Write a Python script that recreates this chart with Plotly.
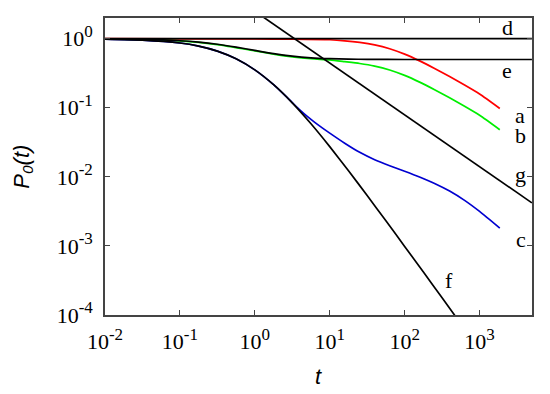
import plotly.graph_objects as go

# ---- data (t, P0(t)) ----
t_a = [0.01, 0.1, 1, 3.16, 10, 15.85, 25.1, 39.8, 63.1, 100, 158.5, 251, 398, 631, 1000, 1862]
p_a = [1.0, 0.998, 0.99, 0.985, 0.966, 0.933, 0.883, 0.813, 0.716, 0.598, 0.478, 0.371, 0.283, 0.213, 0.158, 0.0977]

t_b = [0.01, 0.1, 0.316, 1, 1.78, 3.16, 5.62, 10, 15.85, 25.1, 39.8, 63.1, 100, 158.5, 251, 398, 631, 1000, 1862]
p_b = [0.993, 0.928, 0.823, 0.667, 0.599, 0.547, 0.513, 0.494, 0.466, 0.438, 0.402, 0.353, 0.2945, 0.2354,
       0.1827, 0.1394, 0.1049, 0.0778, 0.0481]

t_c = [0.01, 0.0316, 0.1, 0.178, 0.316, 0.562, 1, 1.78, 2.51, 3.16, 3.98, 5.01, 6.31, 7.94, 10, 15.85, 25.1,
       39.8, 63.1, 100, 158, 251, 398, 631, 1000, 1862]
p_c = [0.985, 0.954, 0.867, 0.782, 0.662, 0.512, 0.354, 0.216, 0.152, 0.1189, 0.0933, 0.0750, 0.0615, 0.0512,
       0.0430, 0.0307, 0.02265, 0.0177, 0.01449, 0.01205, 0.00995, 0.00804, 0.00624, 0.00457, 0.00316, 0.00181]

t_d = [0.01, 5000]
p_d = [1.0, 1.0]

t_e = [0.01, 0.0316, 0.1, 0.178, 0.316, 0.562, 1, 1.78, 3.16, 5.62, 10, 17.8, 31.6, 100, 5000]
p_e = [0.993, 0.977, 0.934, 0.891, 0.831, 0.756, 0.677, 0.608, 0.559, 0.529, 0.514, 0.506, 0.503, 0.500, 0.500]

t_f = [0.01, 0.0316, 0.1, 0.178, 0.316, 0.562, 1, 1.78, 3.16, 5.62, 10, 17.8, 31.6, 56.2, 100, 178, 316, 562]
p_f = [0.985, 0.954, 0.867, 0.782, 0.662, 0.512, 0.354, 0.216, 0.118, 0.0587, 0.0274, 0.01227, 0.00537,
       0.00231, 0.000985, 0.000418, 0.000177, 0.0000748]

t_g = [1, 5000]
p_g = [2.5, 0.0042]

x_tickvals = [0.01, 0.1, 1, 10, 100, 1000]
x_exponents = ["-2", "-1", "0", "1", "2", "3"]
y_tickvals = [0.0001, 0.001, 0.01, 0.1, 1]
y_exponents = ["-4", "-3", "-2", "-1", "0"]

curve_labels = ["a", "b", "c", "d", "e", "f", "g"]


def pow_label(e):
    return "10<sup><span style='font-size:17px'>" + e + "</span></sup>"


# ---- figure ----
fig = go.Figure()
LW = 1.7
for t, p, col in [(t_a, p_a, "#ff0000"), (t_b, p_b, "#00ee00"), (t_c, p_c, "#0000d0")]:
    fig.add_trace(go.Scatter(x=t, y=p, mode="lines", line=dict(color=col, width=LW, shape="spline", smoothing=0.6),
                             showlegend=False, hoverinfo="skip"))
for t, p in [(t_d, p_d), (t_e, p_e), (t_f, p_f), (t_g, p_g)]:
    fig.add_trace(go.Scatter(x=t, y=p, mode="lines", line=dict(color="#000000", width=LW, shape="spline", smoothing=0.6),
                             showlegend=False, hoverinfo="skip"))

# label positions (log10 data units)
label_pos = {"a": (3.543, -1.116), "b": (3.547, -1.404), "c": (3.556, -2.908), "d": (3.373, 0.158),
             "e": (3.36, -0.466), "f": (2.587, -3.506), "g": (3.543, -1.96)}
for lab in curve_labels:
    lx, ly = label_pos[lab]
    fig.add_annotation(x=lx, y=ly, xref="x", yref="y", text=lab, showarrow=False,
                       font=dict(family="Liberation Serif", size=22, color="black"),
                       xanchor="center", yanchor="middle")

# axis titles
fig.add_annotation(x=0.5, y=-0.207, xref="paper", yref="paper", text="<i>t</i>", showarrow=False,
                   font=dict(family="Liberation Sans", size=22, color="black"), xanchor="center", yanchor="middle")
fig.add_annotation(x=-0.194, y=0.5, xref="paper", yref="paper", text="<i>P<sub>0</sub>(t)</i>", showarrow=False,
                   textangle=-90, font=dict(family="Liberation Sans", size=22, color="black"),
                   xanchor="center", yanchor="middle")

axis_common = dict(type="log", showgrid=False, zeroline=False, showline=True, linecolor="#444444", linewidth=1.5,
                   mirror="ticks", ticks="inside", ticklen=5, tickwidth=1, tickcolor="#444444",
                   tickfont=dict(family="Liberation Serif", size=22, color="black"))
fig.update_xaxes(range=[-2, 3.7], tickvals=x_tickvals, ticktext=[pow_label(e) for e in x_exponents],
                 ticklabelstandoff=6, **axis_common)
fig.update_yaxes(range=[-4, 0.30], tickvals=y_tickvals, ticktext=[pow_label(e) for e in y_exponents],
                 ticklabelstandoff=6, **axis_common)

# page body has an 8px default margin: figure placed at (8, 8)
fig.update_layout(width=542, height=386, autosize=False, margin=dict(l=97, r=18, t=8, b=79),
                  plot_bgcolor="white", paper_bgcolor="white")
fig.write_html("out.html")
